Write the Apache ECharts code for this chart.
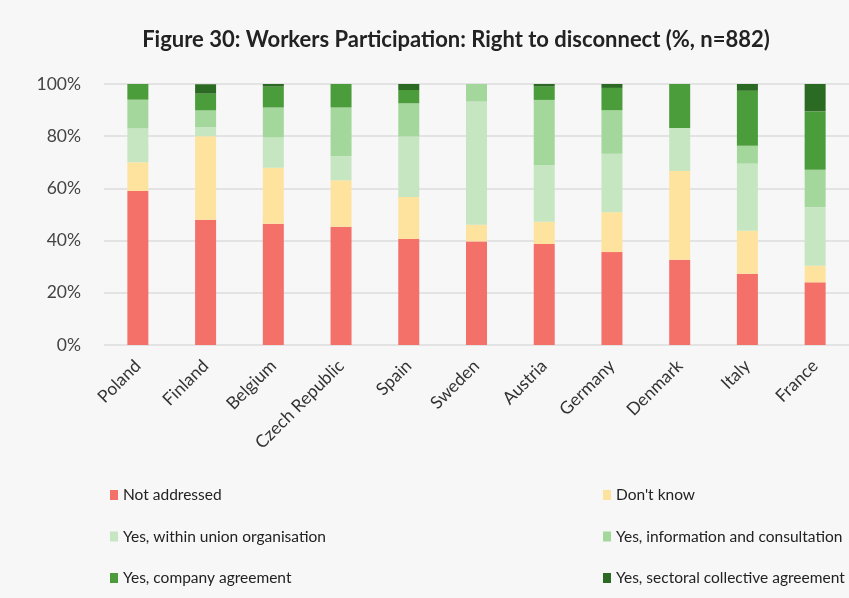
<!DOCTYPE html>
<html>
<head>
<meta charset="utf-8">
<script src="https://cdn.jsdelivr.net/npm/echarts@6/dist/echarts.min.js"></script>
<style>
  html, body { margin: 0; padding: 0; background: #f7f7f7; }
  #chart { width: 849px; height: 598px; }
</style>
</head>
<body>
<div id="chart"></div>
<script>
// categories and shares (%)
const countries = ['Poland', 'Finland', 'Belgium', 'Czech Republic', 'Spain', 'Sweden',
  'Austria', 'Germany', 'Denmark', 'Italy', 'France'];
const notAddressed = [59, 48, 46.5, 45.3, 40.6, 39.7, 38.7, 35.6, 32.7, 27.3, 24];
const dontKnow     = [11, 32, 21.4, 17.8, 16.1, 6.4, 8.5, 15.3, 34, 16.5, 6.4];
const withinUnion  = [13, 3.5, 11.6, 9.3, 23.2, 47.2, 21.8, 22.4, 16.4, 25.7, 22.4];
const infoConsult  = [11, 6.4, 11.5, 18.6, 12.7, 6.7, 24.9, 16.7, 0, 6.8, 14.3];
const companyAgr   = [6, 6.4, 8, 9, 5.1, 0, 5.1, 8.5, 16.9, 21.1, 22.4];
const sectoralAgr  = [0, 3.6, 1, 0, 2.3, 0, 1, 1.5, 0, 2.6, 10.5];
const yTicks = [0, 20, 40, 60, 80, 100];

const seriesDefs = [
  { name: 'Not addressed', data: notAddressed, color: '#f4716a' },
  { name: "Don't know", data: dontKnow, color: '#fee39e' },
  { name: 'Yes, within union organisation', data: withinUnion, color: '#c6e6c2' },
  { name: 'Yes, information and consultation', data: infoConsult, color: '#a3d79b' },
  { name: 'Yes, company agreement', data: companyAgr, color: '#4b9c3a' },
  { name: 'Yes, sectoral collective agreement', data: sectoralAgr, color: '#2b6a22' }
];

const font = 'Lato, "Open Sans", sans-serif';
const chart = echarts.init(document.getElementById('chart'));

// two vertical legends = the two legend columns
const legendBase = {
  orient: 'vertical',
  top: 481,
  height: 130,
  itemWidth: 8,
  itemHeight: 10,
  itemGap: 23.5,
  icon: 'rect',
  textStyle: { fontFamily: font, fontSize: 15.5, lineHeight: 18, color: '#222' }
};

const option = {
  backgroundColor: '#f7f7f7',
  animation: false,
  title: {
    text: 'Figure 30: Workers Participation: Right to disconnect (%, n=882)',
    left: 451,
    textAlign: 'center',
    top: 24,
    textStyle: { fontFamily: font, fontSize: 22, fontWeight: 'bold', color: '#222' }
  },
  legend: [
    Object.assign({}, legendBase, { left: 105, data: [seriesDefs[0].name, seriesDefs[2].name, seriesDefs[4].name] }),
    Object.assign({}, legendBase, { left: 598, data: [seriesDefs[1].name, seriesDefs[3].name, seriesDefs[5].name] })
  ],
  grid: { left: 104, right: -3, top: 84, bottom: 253, containLabel: false },
  xAxis: {
    type: 'category',
    data: countries,
    axisLine: { show: false },
    axisTick: { show: false },
    axisLabel: {
      rotate: 45,
      interval: 0,
      margin: 18,
      fontFamily: font,
      fontSize: 17.5,
      color: '#333'
    }
  },
  yAxis: {
    type: 'value',
    min: yTicks[0],
    max: yTicks[yTicks.length - 1],
    interval: 20,
    axisLine: { show: false },
    axisTick: { show: false },
    axisLabel: {
      formatter: '{value}%',
      fontFamily: font,
      fontSize: 17.5,
      color: '#444',
      margin: 23
    },
    splitLine: { lineStyle: { color: '#dcdcdc', width: 1.5 } }
  },
  series: seriesDefs.map(s => ({
    name: s.name,
    type: 'bar',
    stack: 'total',
    barWidth: 21,
    data: s.data,
    itemStyle: { color: s.color }
  }))
};

chart.setOption(option);
</script>
</body>
</html>
